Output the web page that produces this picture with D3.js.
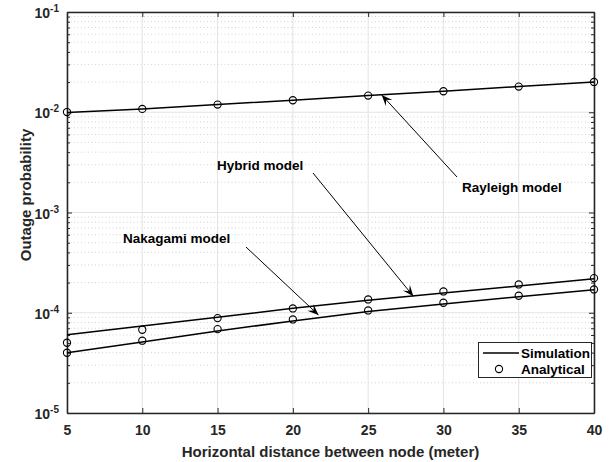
<!DOCTYPE html>
<html><head><meta charset="utf-8">
<script src="https://cdn.jsdelivr.net/npm/d3@7"></script>
<style>body{margin:0;background:#fff}svg{display:block;font-family:"Liberation Sans",Arial,sans-serif;font-weight:bold}</style>
</head><body><svg id="c" width="612" height="462"></svg>
<script>
const distances = [5, 10, 15, 20, 25, 30, 35, 40];
const rayleighSim = [0.00993, 0.01079, 0.01193, 0.01317, 0.01467, 0.01620, 0.01804, 0.02005];
const rayleighAna = [0.01005, 0.01079, 0.01193, 0.01317, 0.01467, 0.01620, 0.01804, 0.02005];
const hybridSim = [0.603e-4, 0.739e-4, 0.904e-4, 1.106e-4, 1.335e-4, 1.572e-4, 1.850e-4, 2.183e-4];
const hybridAna = [0.502e-4, 0.677e-4, 0.884e-4, 1.104e-4, 1.357e-4, 1.631e-4, 1.915e-4, 2.213e-4];
const nakagamiSim = [0.399e-4, 0.512e-4, 0.658e-4, 0.828e-4, 1.03e-4, 1.224e-4, 1.444e-4, 1.696e-4];
const nakagamiAna = [0.399e-4, 0.526e-4, 0.686e-4, 0.857e-4, 1.054e-4, 1.258e-4, 1.477e-4, 1.707e-4];
const xTicks = [5, 10, 15, 20, 25, 30, 35, 40];
const yExponents = [-5, -4, -3, -2, -1];
const xLabel = "Horizontal distance between node (meter)";
const yLabel = "Outage probability";
const legendLabels = ["Simulation", "Analytical"];
const annotations = [
  {text: "Rayleigh model", tx: 462, ty: 192, x0: 457, y0: 177, x: 25.9, v: 0.01490},
  {text: "Hybrid model", tx: 217, ty: 170, x0: 313, y0: 173, x: 28.0, v: 1.46e-4},
  {text: "Nakagami model", tx: 123, ty: 243, x0: 246, y0: 247, x: 21.7, v: 0.95e-4}
];

const svg = d3.select("#c");
const L = 67, R = 594, T = 12, B = 413;
const x = d3.scaleLinear().domain([5, 40]).range([L, R]);
const y = d3.scaleLog().domain([1e-5, 1e-1]).range([B, T]);

// minor grid
const minor = [];
for (let e = -5; e < -1; e++) for (let m = 2; m <= 9; m++) minor.push(m * Math.pow(10, e));
const g = svg.append("g");
g.selectAll(".mg").data(minor).join("line")
  .attr("x1", L).attr("x2", R).attr("y1", d => y(d)).attr("y2", d => y(d))
  .attr("stroke", "#c8c8c8").attr("stroke-width", 0.8).attr("stroke-dasharray", "1,2.5");
// major grid
g.selectAll(".gx").data(xTicks).join("line")
  .attr("x1", d => x(d)).attr("x2", d => x(d)).attr("y1", T).attr("y2", B)
  .attr("stroke", "#e3e3e3").attr("stroke-width", 1);
g.selectAll(".gy").data(yExponents).join("line")
  .attr("x1", L).attr("x2", R).attr("y1", d => y(Math.pow(10, d))).attr("y2", d => y(Math.pow(10, d)))
  .attr("stroke", "#e3e3e3").attr("stroke-width", 1);

// axes with inward ticks
const axc = "#262626";
const ax = svg.append("g").attr("transform", `translate(0,${B})`)
  .call(d3.axisBottom(x).tickValues(xTicks).tickSizeInner(-5).tickSizeOuter(0).tickPadding(12));
const axTop = svg.append("g").attr("transform", `translate(0,${T})`)
  .call(d3.axisTop(x).tickValues(xTicks).tickSizeInner(-5).tickSizeOuter(0).tickFormat(""));
const yMaj = yExponents.map(e => Math.pow(10, e));
const ayl = svg.append("g").attr("transform", `translate(${L},0)`)
  .call(d3.axisLeft(y).tickValues(yMaj).tickSizeInner(-5).tickSizeOuter(0).tickFormat(""));
const ayr = svg.append("g").attr("transform", `translate(${R},0)`)
  .call(d3.axisRight(y).tickValues(yMaj).tickSizeInner(-5).tickSizeOuter(0).tickFormat(""));
const aylm = svg.append("g").attr("transform", `translate(${L},0)`)
  .call(d3.axisLeft(y).tickValues(minor).tickSizeInner(-3).tickSizeOuter(0).tickFormat(""));
const ayrm = svg.append("g").attr("transform", `translate(${R},0)`)
  .call(d3.axisRight(y).tickValues(minor).tickSizeInner(-3).tickSizeOuter(0).tickFormat(""));
[ax, axTop, ayl, ayr, aylm, ayrm].forEach(a => {
  a.selectAll("path").attr("stroke", axc).attr("stroke-width", 1.3);
  a.selectAll("line").attr("stroke", axc).attr("stroke-width", 1);
});
ax.selectAll("text").attr("font-size", 14).attr("font-weight", "bold").attr("fill", axc)
  .attr("font-family", "Liberation Sans, Arial, sans-serif");

// y tick labels 10^e
const yl = svg.append("g").selectAll("text").data(yExponents).join("text")
  .attr("x", 59).attr("y", d => y(Math.pow(10, d)) + 6)
  .attr("text-anchor", "end").attr("font-size", 14).attr("fill", axc);
yl.append("tspan").text("10");
yl.append("tspan").attr("font-size", 10).attr("dy", -6).text(d => String(d));

// axis labels
svg.append("text").attr("x", (L + R) / 2).attr("y", 457).attr("text-anchor", "middle")
  .attr("font-size", 15).attr("fill", axc).text(xLabel);
svg.append("text").attr("transform", `translate(31,195) rotate(-90)`).attr("text-anchor", "middle")
  .attr("font-size", 15).attr("fill", axc).text(yLabel);

// series
const line = d3.line().x((d, i) => x(distances[i])).y(d => y(d));
const sims = [rayleighSim, hybridSim, nakagamiSim];
const anas = [rayleighAna, hybridAna, nakagamiAna];
svg.append("g").selectAll("path").data(sims).join("path")
  .attr("d", d => line(d)).attr("fill", "none").attr("stroke", "#000").attr("stroke-width", 1.5);
anas.forEach(s => {
  svg.append("g").selectAll("circle").data(s).join("circle")
    .attr("cx", (d, i) => x(distances[i])).attr("cy", d => y(d)).attr("r", 3.6)
    .attr("fill", "none").attr("stroke", "#000").attr("stroke-width", 1.1);
});

// annotations
annotations.forEach(a => {
  svg.append("text").attr("x", a.tx).attr("y", a.ty).attr("font-size", 13.5).attr("fill", "#000").text(a.text);
  const x1 = x(a.x), y1 = y(a.v);
  svg.append("line").attr("x1", a.x0).attr("y1", a.y0).attr("x2", x1).attr("y2", y1)
    .attr("stroke", "#000").attr("stroke-width", 1);
  const ang = Math.atan2(y1 - a.y0, x1 - a.x0);
  const len = 11, w = 4.5;
  const bx = x1 - len * Math.cos(ang), by = y1 - len * Math.sin(ang);
  const nx = -Math.sin(ang), ny = Math.cos(ang);
  const ix = x1 - 0.6 * len * Math.cos(ang), iy = y1 - 0.6 * len * Math.sin(ang);
  svg.append("path").attr("d", `M${x1},${y1}L${bx + nx * w},${by + ny * w}L${ix},${iy}L${bx - nx * w},${by - ny * w}Z`)
    .attr("fill", "#000");
});

// legend
const lg = svg.append("g");
lg.append("rect").attr("x", 478.5).attr("y", 342.5).attr("width", 113).attr("height", 35)
  .attr("fill", "#fff").attr("stroke", axc).attr("stroke-width", 1);
lg.append("line").attr("x1", 483).attr("x2", 519).attr("y1", 353).attr("y2", 353).attr("stroke", "#000").attr("stroke-width", 1.3);
lg.append("circle").attr("cx", 499).attr("cy", 369).attr("r", 3.6).attr("fill", "none").attr("stroke", "#000").attr("stroke-width", 1.1);
lg.selectAll("text").data(legendLabels).join("text")
  .attr("x", 521).attr("y", (d, i) => 358 + i * 16).attr("font-size", 13.5).attr("fill", "#000").text(d => d);
</script></body></html>
